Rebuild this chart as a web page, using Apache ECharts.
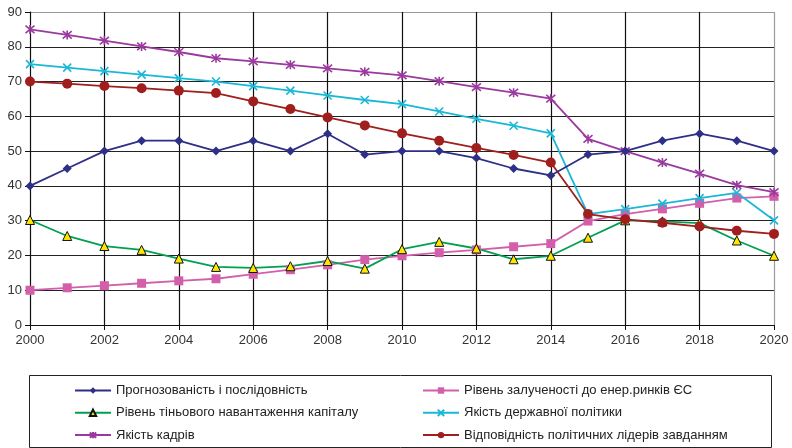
<!DOCTYPE html>
<html>
<head>
<meta charset="utf-8">
<script src="https://cdn.jsdelivr.net/npm/echarts@6/dist/echarts.min.js"></script>
<style>html,body{margin:0;padding:0;background:#fff}#c{width:792px;height:448px}</style>
</head>
<body>
<div id="c"></div>
<script>
var years = [2000,2001,2002,2003,2004,2005,2006,2007,2008,2009,2010,2011,2012,2013,2014,2015,2016,2017,2018,2019,2020];
var yTicks = [0,10,20,30,40,50,60,70,80,90];
var names = [
  'Прогнозованість і послідовність',
  'Рівень залученості до енер.ринків ЄС',
  'Рівень тіньового навантаження капіталу',
  'Якість державної політики',
  'Якість кадрів',
  'Відповідність політичних лідерів завданням'
];
var predictability = [40,45,50,53,53,50,53,50,55,49,50,50,48,45,43,49,50,53,55,53,50];
var euMarkets = [10,10.7,11.3,12,12.7,13.3,14.6,15.9,17.3,18.8,19.9,20.8,21.6,22.5,23.4,29.9,31.9,33.4,35,36.5,37];
var shadowCapital = [30.2,25.6,22.7,21.6,19.1,16.7,16.4,16.9,18.4,16.2,21.8,23.9,22,18.9,19.9,25.1,30.1,29.8,29.3,24.3,19.9];
var statePolicy = [75,74,73,72,71,70,68.7,67.4,66,64.7,63.5,61.4,59.3,57.3,55.1,31.9,33.3,34.9,36.5,38,30.1];
var personnel = [85,83.4,81.8,80.1,78.5,76.7,75.8,74.8,73.8,72.8,71.8,70.1,68.4,66.8,65.1,53.5,50,46.7,43.5,40.2,38.2];
var leaders = [70,69.4,68.7,68.1,67.4,66.7,64.3,62.1,59.7,57.4,55.1,53,50.9,48.9,46.7,31.9,30.4,29.4,28.3,27.1,26.2];

function pairs(vals){ return years.map(function(y,i){ return [y, vals[i]]; }); }

var X_PATH = 'path://M0,0L10,10M10,0L0,10';
var STAR_PATH = 'path://M0,0L10,10M10,0L0,10M5,-1L5,11';

function mk(name, vals, color, symbol, size, itemStyle){
  return {
    name: name, type: 'line', data: pairs(vals),
    symbol: symbol, symbolSize: size,
    lineStyle: {color: color, width: 1.8},
    itemStyle: itemStyle || {color: color},
    emphasis: {disabled: true},
    animation: false
  };
}

var xColors = years.filter(function(y){return y%2===0;}).map(function(y){ return y===2020 ? '#9a9a9a' : '#111'; });
var yColors = yTicks.map(function(v){ return v===90 ? '#9a9a9a' : '#222'; });

var legendText = {fontSize: 13, color: '#222', fontFamily: 'Liberation Sans, Arial, sans-serif'};

var chart = echarts.init(document.getElementById('c'), null, {renderer:'canvas'});
chart.setOption({
  backgroundColor: '#fff',
  animation: false,
  textStyle: {fontFamily: 'Liberation Sans, Arial, sans-serif'},
  grid: {left: 30, right: 18, top: 12, bottom: 123, containLabel: false},
  xAxis: {
    type: 'value', min: 2000, max: 2020, interval: 2,
    axisLine: {show: true, onZero: false, lineStyle: {color: '#111', width: 1}},
    axisTick: {show: true, length: 5, lineStyle: {color: '#111'}},
    axisLabel: {color: '#333', fontSize: 13, margin: 9, formatter: function(v){ return String(v); }},
    splitLine: {show: true, lineStyle: {color: xColors, width: 1.2}}
  },
  yAxis: {
    type: 'value', min: 0, max: 90, interval: 10,
    axisLine: {show: true, lineStyle: {color: '#111', width: 1}},
    axisTick: {show: true, length: 5, lineStyle: {color: '#111'}},
    axisLabel: {color: '#333', fontSize: 13, margin: 8},
    splitLine: {show: true, lineStyle: {color: yColors, width: 1.2}}
  },
  legend: [
    {
      data: [names[0], names[2], names[4]],
      orient: 'vertical', left: 74, top: 384, height: 100, itemGap: 9.3, padding: 0,
      itemWidth: 36, itemHeight: 8,
      textStyle: legendText,
      selectedMode: false
    },
    {
      data: [names[1], names[3], names[5]],
      orient: 'vertical', left: 422, top: 384, height: 100, itemGap: 9.3, padding: 0,
      itemWidth: 36, itemHeight: 8,
      textStyle: legendText,
      selectedMode: false
    }
  ],
  graphic: [
    {type: 'rect', shape: {x: 29.5, y: 375.5, width: 742, height: 72}, style: {fill: 'none', stroke: '#222', lineWidth: 1}, z: -1}
  ],
  series: [
    mk(names[1], euMarkets, '#D35FAB', 'rect', 9),
    mk(names[2], shadowCapital, '#00A050', 'triangle', 9, {color: '#FFE600', borderColor: '#111', borderWidth: 1}),
    mk(names[3], statePolicy, '#1AB8D6', X_PATH, 8, {color: '#1AB8D6', borderColor: '#1AB8D6', borderWidth: 1.6}),
    mk(names[4], personnel, '#9B3A9E', STAR_PATH, 9, {color: '#9B3A9E', borderColor: '#9B3A9E', borderWidth: 1.6}),
    mk(names[5], leaders, '#A01E1E', 'circle', 10),
    mk(names[0], predictability, '#2E2F86', 'diamond', 9)
  ]
});
</script>
</body>
</html>
